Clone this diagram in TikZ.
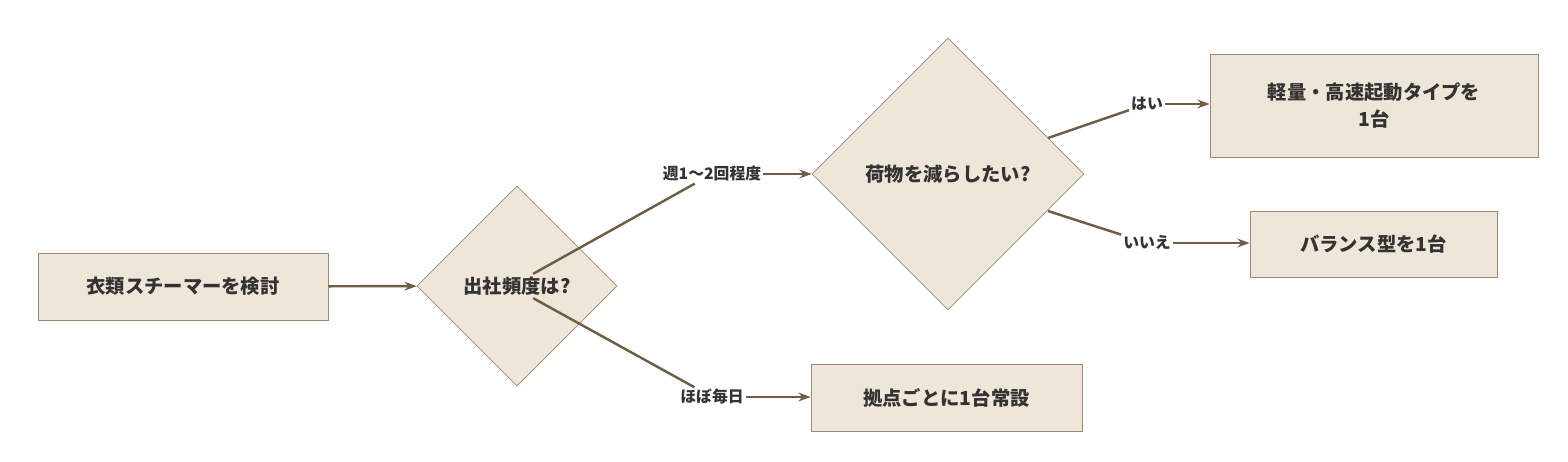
\documentclass[tikz,border=0pt]{standalone}
\usepackage{fontspec}
\setmainfont{Noto Sans CJK JP}
\usetikzlibrary{shapes.geometric,arrows.meta,positioning}
\definecolor{boxfill}{HTML}{EFE6DA}
\definecolor{boxline}{HTML}{9C8A73}
\definecolor{edge}{HTML}{6E5E45}
\definecolor{txt}{HTML}{333333}
\tikzset{
  box/.style={draw=boxline,fill=boxfill,text=txt,font=\fontsize{11}{15}\selectfont\bfseries,align=center,inner sep=0pt},
  decision/.style={diamond,draw=boxline,fill=boxfill,text=txt,font=\fontsize{11}{15}\selectfont\bfseries,inner sep=0pt,aspect=1},
  lbl/.style={fill=white,text=txt,font=\fontsize{9}{11}\selectfont\bfseries,inner sep=1pt},
  flow/.style={draw=edge,line width=1.4pt},
  arr/.style={flow,-{Stealth[length=7pt,width=5pt]}}
}
\begin{document}
\begin{tikzpicture}[x=0.02cm,y=0.02cm]
  \useasboundingbox (0,0) rectangle (1568,462);
  % boxes
  \node[box,minimum width=302\pgflinewidth,text width=5.8cm,minimum height=1.34cm] (start) at (183,175.5) {衣類スチーマーを検討};
  \node[decision,minimum width=4cm,minimum height=4cm] (freq) at (517,176) {出社頻度は?};
  \node[decision,minimum width=5.44cm,minimum height=5.44cm] (load) at (948,288) {荷物を減らしたい?};
  \node[box,minimum width=6.56cm,minimum height=2.06cm] (light) at (1374,356.5) {軽量・高速起動タイプを\\1台};
  \node[box,minimum width=4.94cm,minimum height=1.32cm] (bal) at (1373.5,218) {バランス型を1台};
  \node[box,minimum width=5.42cm,minimum height=1.34cm] (base) at (946.5,64) {拠点ごとに1台常設};
  % labels
  \node[lbl] (weekly) at (712,288) {週1〜2回程度};
  \node[lbl] (daily) at (712,65) {ほぼ毎日};
  \node[lbl] (yes) at (1147,358) {はい};
  \node[lbl] (no) at (1147,219) {いいえ};
  % connectors
  \draw[arr] (start) -- (freq);
  \draw[flow] (freq.north east) ++(-34,-38) coordinate (f1);
  \draw[flow] (f1) -- (weekly);
  \draw[arr] (weekly) -- (load);
  \draw[flow] (freq.south east) ++(-34,38) coordinate (f2);
  \draw[flow] (f2) -- (daily);
  \draw[arr] (daily) -- (base.west |- daily);
  \coordinate (l1) at (1048,324);
  \coordinate (l2) at (1048,251);
  \draw[flow] (l1) -- (yes);
  \draw[arr] (yes) -- (light.west |- yes);
  \draw[flow] (l2) -- (no);
  \draw[arr] (no) -- (bal.west |- no);
\end{tikzpicture}
\end{document}
